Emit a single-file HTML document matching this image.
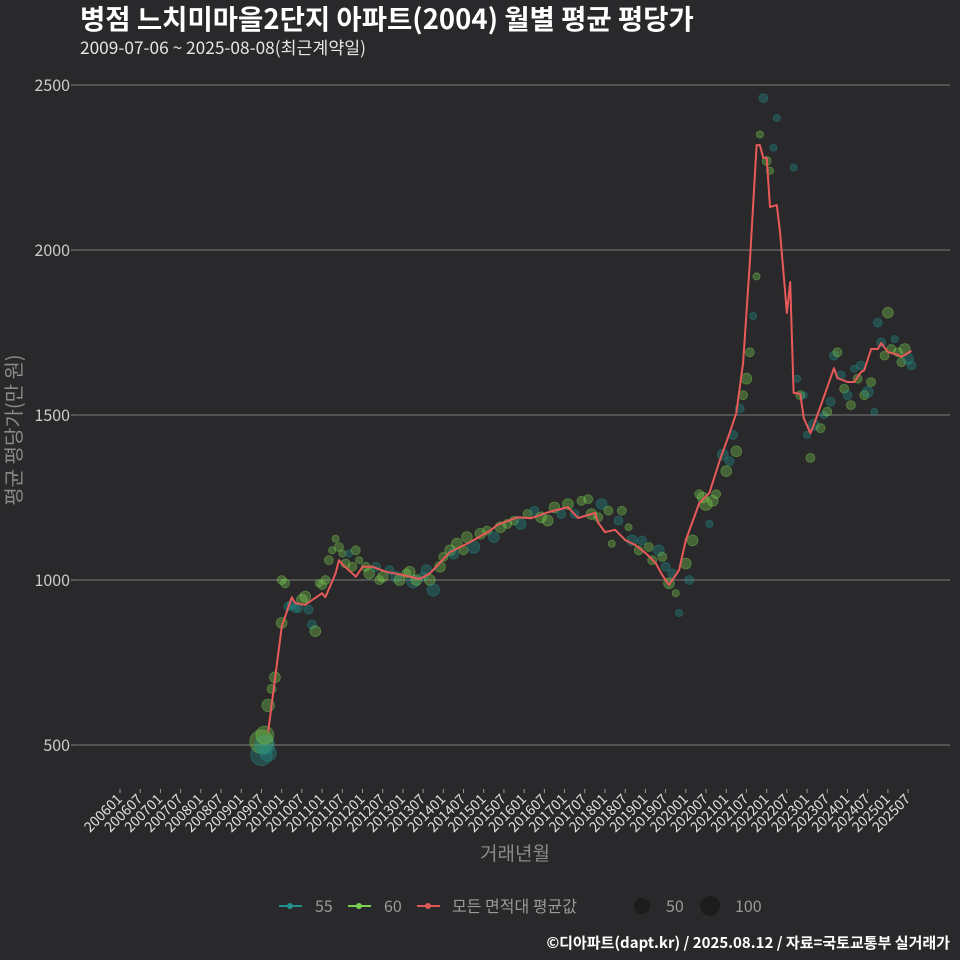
<!DOCTYPE html>
<html><head><meta charset="utf-8">
<style>
html,body{margin:0;padding:0;background:#29282a;}
body{width:960px;height:960px;overflow:hidden;font-family:"Liberation Sans","Noto Sans CJK KR",sans-serif;}
svg{display:block}
</style></head>
<body>
<svg id="chart" width="960" height="960" xmlns="http://www.w3.org/2000/svg" font-family="'Liberation Sans','Noto Sans CJK KR',sans-serif">
<rect width="960" height="960" fill="#29282a"/>
<text x="80" y="29" fill="#ffffff" font-size="27.5" font-weight="bold" font-family="'Noto Sans CJK KR',sans-serif">병점 느치미마을2단지 아파트(2004) 월별 평균 평당가</text>
<text x="80" y="54" fill="#e6e6e6" font-size="17.3" font-family="'Noto Sans CJK KR',sans-serif">2009-07-06 ~ 2025-08-08(최근계약일)</text>
<g id="grid"></g>
<g id="yaxis"></g>
<g id="xaxis"></g>
<g id="points"></g>
<g id="line"></g>
<text transform="translate(21,430) rotate(-90)" text-anchor="middle" fill="#8a8a8a" font-size="20" font-family="'Noto Sans CJK KR',sans-serif">평균 평당가(만 원)</text>
<text x="515" y="860" text-anchor="middle" fill="#8a8a8a" font-size="19" font-family="'Noto Sans CJK KR',sans-serif">거래년월</text>
<g font-family="'Noto Sans CJK KR',sans-serif">
 <g><line x1="279" y1="906" x2="302" y2="906" stroke="#21908c" stroke-width="2"/><circle cx="290" cy="906" r="3" fill="#21908c"/><text x="315" y="912" fill="#9a9a9a" font-size="16">55</text></g>
 <g><line x1="348" y1="906" x2="371" y2="906" stroke="#7ad151" stroke-width="2"/><circle cx="359" cy="906" r="3" fill="#7ad151"/><text x="384" y="912" fill="#9a9a9a" font-size="16">60</text></g>
 <g><line x1="417" y1="906" x2="440" y2="906" stroke="#e05757" stroke-width="2"/><circle cx="428" cy="906" r="3" fill="#e05757"/><text x="452" y="912" fill="#9a9a9a" font-size="16">모든 면적대 평균값</text></g>
 <g><circle cx="642" cy="906" r="8" fill="#1c1c1c"/><text x="666" y="912" fill="#9a9a9a" font-size="16">50</text></g>
 <g><circle cx="710" cy="906" r="10" fill="#1c1c1c"/><text x="735" y="912" fill="#9a9a9a" font-size="16">100</text></g>
</g>
<text x="950" y="948" text-anchor="end" fill="#ffffff" font-size="15" font-weight="bold" font-family="'Noto Sans CJK KR',sans-serif">©디아파트(dapt.kr) / 2025.08.12 / 자료=국토교통부 실거래가</text>
</svg>
<script>
const yTicks = [500, 1000, 1500, 2000, 2500];
const xTickLabels = ["200601","200607","200701","200707","200801","200807","200901","200907","201001","201007","201101","201107","201201","201207","201301","201307","201401","201407","201501","201507","201601","201607","201701","201707","201801","201807","201901","201907","202001","202007","202101","202107","202201","202207","202301","202307","202401","202407","202501","202507"];
const lineMonths = ["200909","201001","201002","201004","201005","201008","201101","201102","201105","201106","201107","201111","201201","201204","201208","201301","201306","201309","201403","201409","201503","201505","201511","201603","201608","201702","201705","201710","201711","201801","201804","201807","201810","201901","201904","201906","201908","201911","202001","202005","202008","202011","202102","202104","202106","202108","202110","202111","202112","202201","202202","202204","202205","202207","202208","202209","202211","202212","202302","202303","202306","202309","202310","202401","202403","202405","202406","202408","202410","202411","202501","202504","202505","202508"];
const lineValues = [540,858,888,948,930,925,960,948,1020,1060,1048,1010,1040,1040,1025,1015,1003,1020,1085,1115,1150,1167,1190,1187,1205,1221,1188,1203,1173,1145,1152,1121,1106,1082,1052,1015,985,1030,1121,1233,1264,1360,1445,1506,1658,1961,2318,2318,2279,2279,2130,2136,2052,1809,1903,1567,1564,1491,1445,1470,1555,1642,1612,1600,1600,1630,1636,1700,1700,1718,1691,1682,1676,1694];
const ptMonths = ["200907","200907","200908","200908","200909","200909","200910","200911","201001","201001","201002","201003","201004","201005","201006","201007","201008","201009","201010","201011","201012","201101","201102","201103","201104","201105","201106","201107","201108","201109","201110","201111","201112","201202","201203","201205","201206","201207","201209","201211","201212","201302","201303","201304","201305","201307","201308","201309","201310","201312","201401","201403","201404","201405","201407","201408","201410","201412","201502","201504","201506","201508","201510","201512","201602","201604","201606","201608","201610","201612","201702","201704","201706","201708","201709","201711","201712","201802","201803","201805","201806","201808","201809","201811","201812","201902","201903","201905","201906","201907","201908","201909","201910","201911","202001","202002","202003","202005","202006","202007","202008","202009","202010","202012","202101","202102","202103","202104","202105","202106","202107","202108","202109","202110","202111","202112","202201","202202","202203","202204","202209","202210","202211","202212","202301","202302","202303","202305","202306","202307","202308","202309","202310","202311","202312","202401","202402","202403","202404","202405","202406","202407","202408","202409","202410","202411","202412","202501","202502","202503","202504","202505","202506","202507","202508"];
const ptValues = [470,510,500,530,475,620,670,705,870,1000,990,920,925,915,915,940,950,910,865,845,990,985,1000,1060,1090,1125,1100,1080,1050,1080,1040,1090,1060,1040,1020,1040,1000,1010,1030,1010,1000,1020,1025,995,1000,1010,1030,1000,970,1040,1070,1090,1080,1110,1090,1130,1100,1140,1150,1130,1160,1170,1180,1170,1200,1210,1190,1180,1220,1200,1230,1200,1240,1245,1200,1190,1230,1210,1110,1180,1210,1160,1120,1090,1120,1100,1060,1090,1070,1040,990,1020,960,900,1050,1000,1120,1260,1250,1230,1170,1240,1260,1380,1330,1360,1440,1390,1520,1560,1610,1690,1800,1920,2350,2460,2270,2240,2310,2400,2250,1610,1560,1560,1440,1370,1470,1460,1500,1510,1540,1680,1690,1620,1580,1560,1530,1640,1610,1650,1560,1570,1600,1510,1780,1720,1680,1810,1700,1730,1690,1660,1700,1670,1650,1710,1700,1720];
const ptSizes = [12,13,11,10,9,7,5,6,6,5,5,5,5,5,5,6,6,5,5,6,4,5,5,5,4,4,5,4,5,4,5,5,4,5,6,5,5,6,5,6,6,5,6,7,6,5,6,6,7,6,5,6,6,6,5,6,7,6,5,6,6,5,5,6,5,5,6,6,6,5,6,5,5,5,6,5,6,5,4,5,5,4,6,5,5,5,5,6,5,5,6,5,4,4,6,5,6,5,6,7,4,6,5,6,6,5,5,6,5,5,6,5,4,4,4,5,5,4,4,4,4,4,5,4,4,5,6,5,4,5,5,5,5,5,5,5,5,4,5,5,5,6,5,4,5,5,5,6,5,4,5,5,6,6,5,4,4];
const ptTypes = [55,60,55,60,55,60,60,60,60,60,60,55,55,55,55,60,60,55,55,60,60,60,60,60,60,60,60,60,60,55,60,60,60,60,60,55,60,60,55,55,60,60,60,55,60,55,55,60,55,60,60,60,55,60,60,60,55,60,60,55,60,60,60,55,60,55,60,60,60,55,60,55,60,60,60,60,55,60,60,55,60,60,55,60,55,60,60,55,60,55,60,55,60,55,60,55,60,60,60,60,55,60,60,55,60,55,55,60,55,60,60,60,55,60,60,55,60,60,55,55,55,55,60,55,55,60,55,60,55,60,55,55,60,55,60,55,60,55,60,55,60,55,60,55,55,55,60,60,60,55,60,60,60,55,55,55,55];

const NS = "http://www.w3.org/2000/svg";
function yScale(v){ return 745 - (v - 500) * 0.33; }
function monthIndex(s){ return (parseInt(s.slice(0,4)) - 2006) * 12 + (parseInt(s.slice(4,6)) - 1); }
function xScale(s){ return 120 + monthIndex(s) * 3.368; }
function mk(tag, attrs, parent){ const e = document.createElementNS(NS, tag); for (const k in attrs) e.setAttribute(k, attrs[k]); parent.appendChild(e); return e; }

const grid = document.getElementById('grid');
const yaxis = document.getElementById('yaxis');
yTicks.forEach(v => {
  const gl = mk('line', {x1:75, x2:950, y1:yScale(v), y2:yScale(v), stroke:'#6b6b6b', 'stroke-width':1.2}, grid);
  
  
  const tk = mk('line', {x1:71, x2:75, y1:yScale(v), y2:yScale(v), stroke:'#888'}, yaxis);
  
  
  const t = mk('text', {x:70, y:yScale(v)+6, 'text-anchor':'end', fill:'#cccccc', 'font-size':16, 'font-family':"'Noto Sans CJK KR',sans-serif"}, yaxis);
  t.textContent = v;
  
  
});
const xaxis = document.getElementById('xaxis');
xTickLabels.forEach(s => {
  const x = xScale(s);
  const tk = mk('line', {x1:x, x2:x, y1:789, y2:793, stroke:'#999'}, xaxis);
  
  
  const t = mk('text', {x:x+3, y:800, 'text-anchor':'end', fill:'#e0e0e0', 'font-size':14, 'font-family':"'Noto Sans CJK KR',sans-serif", transform:'rotate(-45 '+(x+3)+' 800)'}, xaxis);
  t.textContent = s;
  
  
});
const pts = document.getElementById('points');
ptMonths.forEach((m, i) => {
  const col = ptTypes[i] === 55 ? '#21908c' : '#7ad151';
  const c = mk('circle', {cx:xScale(m), cy:yScale(ptValues[i]), r:ptSizes[i]*0.9, fill:col, 'fill-opacity':0.35, stroke:col, 'stroke-opacity':0.45, 'stroke-width':0.8}, pts);
  
  
});
const lg = document.getElementById('line');
const d = lineMonths.map((m, i) => (i ? 'L' : 'M') + xScale(m).toFixed(1) + ',' + yScale(lineValues[i]).toFixed(1)).join(' ');
const p = mk('path', {d:d, fill:'none', stroke:'#e85a5a', 'stroke-width':2, 'stroke-linejoin':'round'}, lg);


</script>
</body></html>
